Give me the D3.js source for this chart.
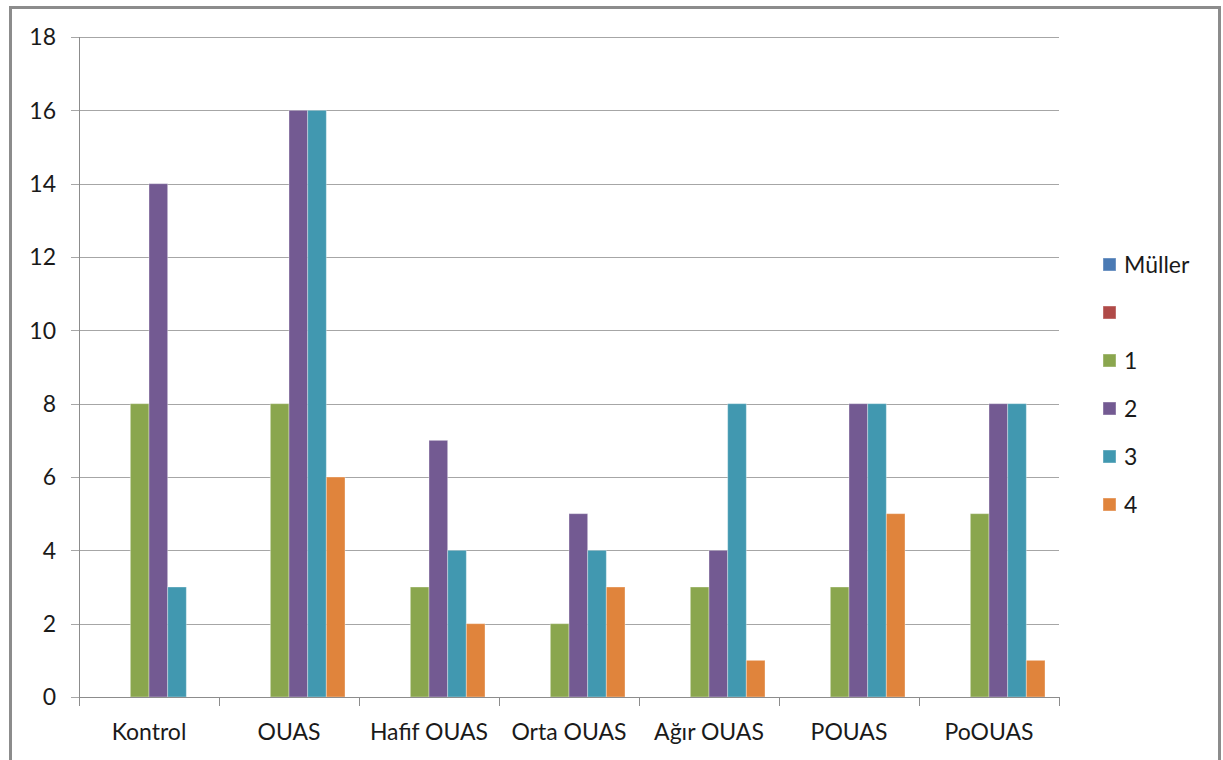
<!DOCTYPE html>
<html>
<head>
<meta charset="utf-8">
<script src="https://cdn.jsdelivr.net/npm/d3@7"></script>
<style>
  html, body { margin: 0; padding: 0; background: #fff; }
  svg text { font-family: Lato, "Open Sans", "Liberation Sans", sans-serif; fill: #1a1a1a; }
</style>
</head>
<body>
<svg id="chart" width="1223" height="760"></svg>
<script>
// Categories (x axis groups)
const categories = ["Kontrol", "OUAS", "Hafif OUAS", "Orta OUAS", "Ağır OUAS", "POUAS", "PoOUAS"];
// Series names, in legend order
const seriesNames = ["Müller", "", "1", "2", "3", "4"];
const seriesColors = ["#4a7ab4", "#b04a48", "#8aa64e", "#735a92", "#4198b0", "#e0843c"];
// Values per series, one per category
const mullerValues = [0, 0, 0, 0, 0, 0, 0];
const blankValues  = [0, 0, 0, 0, 0, 0, 0];
const values1 = [8, 8, 3, 2, 3, 3, 5];
const values2 = [14, 16, 7, 5, 4, 8, 8];
const values3 = [3, 16, 4, 4, 8, 8, 8];
const values4 = [0, 6, 2, 3, 1, 5, 1];
const yTicks = [0, 2, 4, 6, 8, 10, 12, 14, 16, 18];

const seriesValues = [mullerValues, blankValues, values1, values2, values3, values4];

const svg = d3.select("#chart");

// Outer chart frame
svg.append("rect")
  .attr("x", 10.5).attr("y", 7.5)
  .attr("width", 1209).attr("height", 770)
  .attr("fill", "#fff").attr("stroke", "#8c8c8c").attr("stroke-width", 3);

const plot = { left: 79, right: 1059, top: 37, bottom: 697 };

const x = d3.scaleBand().domain(categories).range([plot.left, plot.right]).paddingInner(0).paddingOuter(0);
// 150% gap between clusters: 6 bars plus 1.5 bar widths of space per category
const inner = d3.scaleBand().domain(d3.range(seriesNames.length))
  .range([0, x.bandwidth()]).paddingInner(0).paddingOuter(0.75);
const y = d3.scaleLinear().domain([0, 18]).range([plot.bottom, plot.top]);

// Horizontal gridlines
svg.append("g").selectAll("line").data(yTicks).join("line")
  .attr("x1", plot.left - 8).attr("x2", plot.right)
  .attr("y1", d => Math.round(y(d)) + 0.5).attr("y2", d => Math.round(y(d)) + 0.5)
  .attr("stroke", "#a6a6a6").attr("stroke-width", 1);

// Y axis line
svg.append("line")
  .attr("x1", plot.left + 0.5).attr("x2", plot.left + 0.5)
  .attr("y1", plot.top).attr("y2", plot.bottom + 1)
  .attr("stroke", "#8c8c8c");

// Y tick labels
svg.append("g").selectAll("text").data(yTicks).join("text")
  .attr("x", 56).attr("y", d => y(d)).attr("dy", "0.36em")
  .attr("text-anchor", "end").attr("font-size", 23)
  .text(d => d);

// Bars
const groups = svg.append("g").selectAll("g").data(categories).join("g")
  .attr("transform", c => `translate(${x(c)},0)`);
groups.selectAll("rect")
  .data((c, ci) => seriesValues.map((vals, si) => ({ si, v: vals[ci] })))
  .join("rect")
  .filter(d => d.v > 0)
  .attr("x", d => inner(d.si))
  .attr("y", d => y(d.v))
  .attr("width", inner.bandwidth())
  .attr("height", d => y(0) - y(d.v))
  .attr("fill", d => seriesColors[d.si])
  .attr("stroke", "#ffffff").attr("stroke-opacity", 0.35).attr("stroke-width", 1);

// X axis line and category ticks
svg.append("line")
  .attr("x1", plot.left).attr("x2", plot.right)
  .attr("y1", plot.bottom + 0.5).attr("y2", plot.bottom + 0.5)
  .attr("stroke", "#8c8c8c");
const tickPos = categories.map(c => x(c)).concat([plot.right]);
svg.append("g").selectAll("line").data(tickPos).join("line")
  .attr("x1", d => Math.round(d) + 0.5).attr("x2", d => Math.round(d) + 0.5)
  .attr("y1", plot.bottom).attr("y2", plot.bottom + 9)
  .attr("stroke", "#8c8c8c");

// Category labels
svg.append("g").selectAll("text").data(categories).join("text")
  .attr("x", c => x(c) + x.bandwidth() / 2).attr("y", 740)
  .attr("text-anchor", "middle").attr("font-size", 23)
  .text(c => c);

// Legend
const legend = svg.append("g").selectAll("g").data(seriesNames).join("g")
  .attr("transform", (d, i) => `translate(1103,${258 + i * 48})`);
legend.append("rect")
  .attr("width", 13).attr("height", 13)
  .attr("fill", (d, i) => seriesColors[i])
  .attr("stroke", "#fff").attr("stroke-opacity", 0.4);
legend.append("text")
  .attr("x", 21).attr("y", 7).attr("dy", "0.36em")
  .attr("font-size", 23)
  .text(d => d);
</script>
</body>
</html>
